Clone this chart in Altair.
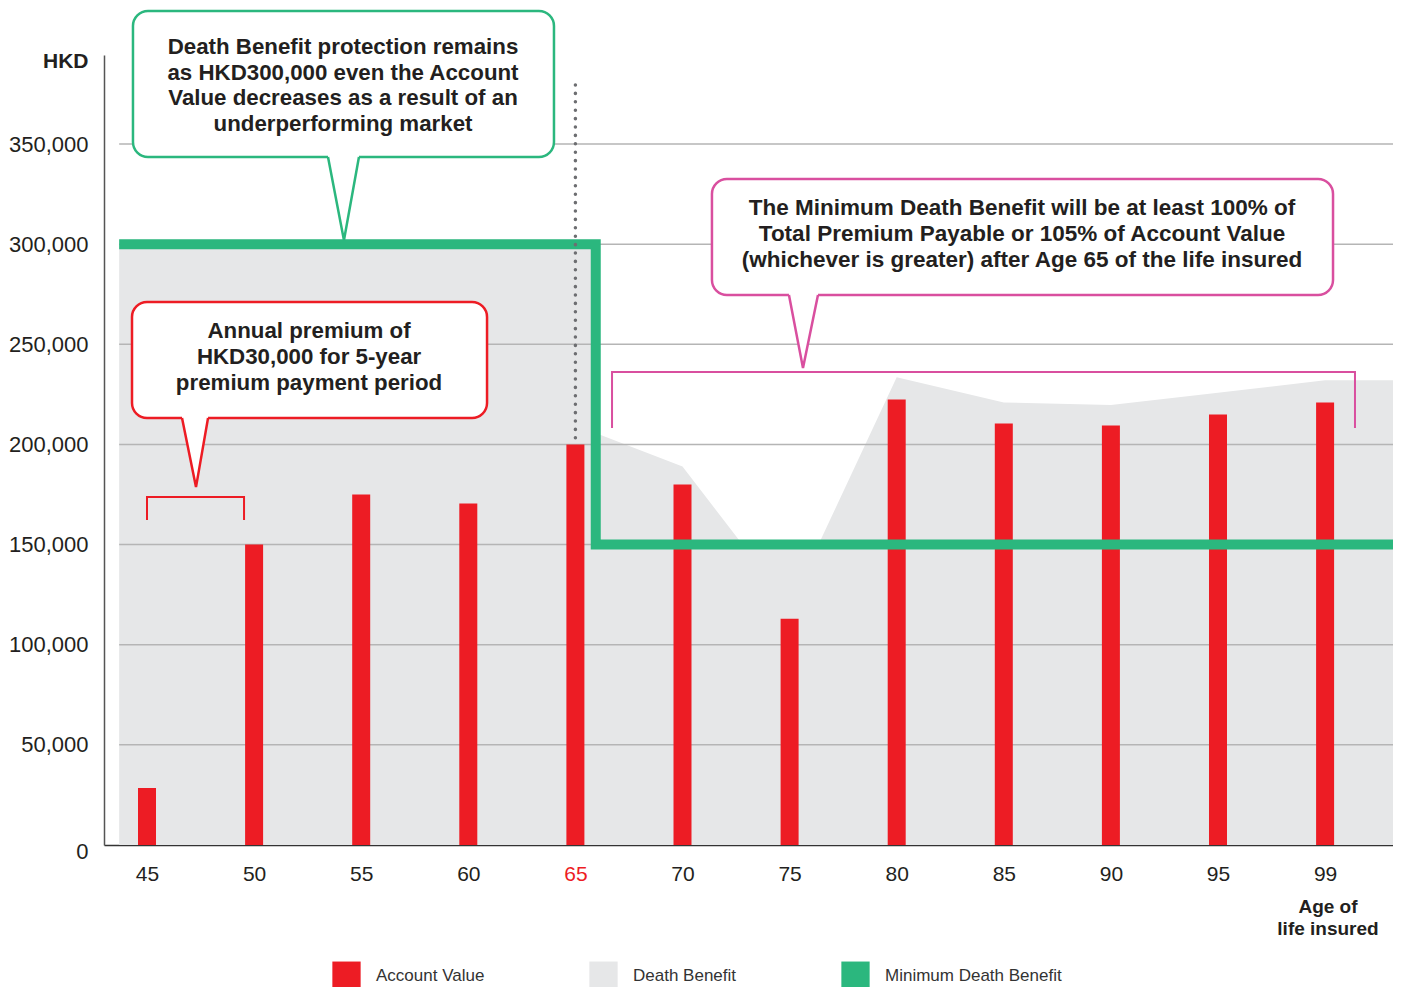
import altair as alt
import pandas as pd

# ---------------- data ----------------
ages = ["45", "50", "55", "60", "65", "70", "75", "80", "85", "90", "95", "99"]
account_value = [28500, 150000, 175000, 170500, 200000, 180000, 113000,
                 222500, 210500, 209500, 215000, 221000]
# Death benefit (grey area) break points, x in age-slot units
db_slot = [-0.26, 4.19, 4.20, 5, 5.56, 6.27, 7, 8, 9, 10, 11, 11.634]
db_value = [300000, 300000, 205500, 189000, 150000, 150000, 233600,
            221000, 219700, 225800, 232000, 232000]
# Minimum death benefit (green step line)
mdb_slot = [-0.26, 4.19, 4.19, 11.634]
mdb_value = [300000, 300000, 150000, 150000]
y_ticks = [0, 50000, 100000, 150000, 200000, 250000, 300000, 350000]
series = ["Account Value", "Death Benefit", "Minimum Death Benefit"]
series_colors = ["#ed1c24", "#e6e7e8", "#2bb77e"]

X_MIN, X_MAX, Y_MAX = -0.4015, 11.634, 394450
FONT = "Liberation Sans"
TXT = "#231f20"

callouts = [
    dict(text=["Death Benefit protection remains", "as HKD300,000 even the Account",
               "Value decreases as a result of an", "underperforming market"],
         color="#2bb77e", box=(-0.131, 3.800, 343500, 416400),
         ptr=(1.690, 1.979, 1.839, 302000), tpos=(1.830, 398400), bracket=None,
         size=22.3, lh=25.7),
    dict(text=["Annual premium of", "HKD30,000 for 5-year", "premium payment period"],
         color="#ed1c24", box=(-0.140, 3.175, 213200, 271100),
         ptr=(0.327, 0.570, 0.4575, 178700), tpos=(1.513, 256600),
         bracket=(0.0, 0.906, 173800, 162300), size=22.3, lh=26),
    dict(text=["The Minimum Death Benefit will be at least 100% of",
               "Total Premium Payable or 105% of Account Value",
               "(whichever is greater) after Age 65 of the life insured"],
         color="#d94f9f", box=(5.275, 11.074, 274600, 332500),
         ptr=(5.994, 6.265, 6.125, 238200), tpos=(8.170, 318000),
         bracket=(4.342, 11.279, 236200, 208200), size=22.5, lh=26),
]

# ---------------- encodings ----------------
xscale = alt.Scale(domain=[X_MIN, X_MAX], nice=False, zero=False, padding=0)
yscale = alt.Scale(domain=[0, Y_MAX], nice=False, zero=False, padding=0)
label_arr = "[" + ",".join("'%s'" % a for a in ages) + "]"
xaxis = alt.Axis(values=list(range(len(ages))), labelExpr=label_arr + "[datum.value]",
                 grid=False, ticks=False, domainColor="#333333", domainWidth=1.5,
                 labelFontSize=21, labelPadding=18, title=None,
                 labelColor={"condition": {"test": "datum.value == 4", "value": "#ed1c24"},
                             "value": TXT})
yaxis = alt.Axis(values=y_ticks, labelExpr="format(datum.value, ',')", grid=False, ticks=False,
                 domainColor="#555555", domainWidth=1.5, labelFontSize=22,
                 labelColor=TXT, labelPadding=16,
                 labelOffset={"condition": {"test": "datum.value == 0", "value": 6}, "value": 0},
                 title="HKD", titleAngle=0, titleAlign="right", titleBaseline="middle",
                 titleX=-16, titleY=6, titleFontSize=21, titleFontWeight="bold",
                 titleColor=TXT)


def X(f):
    return alt.X(f, type="quantitative", scale=xscale, axis=xaxis)


def Y(f):
    return alt.Y(f, type="quantitative", scale=yscale, axis=yaxis)


legend = alt.Legend(title=None, orient="none", legendX=228, legendY=906,
                    direction="horizontal", symbolType="square", symbolSize=800,
                    symbolStrokeWidth=0, symbolOpacity=1, labelFontSize=17,
                    labelColor="#333333", labelOffset=15, columnPadding=104, padding=0,
                    labelLimit=400)
color = alt.Color("series:N", scale=alt.Scale(domain=series, range=series_colors), legend=legend)

# ---------------- frames ----------------
bars_df = pd.DataFrame({"slot": list(range(len(ages))), "value": account_value,
                        "series": series[0]})
db_df = pd.DataFrame({"slot": db_slot, "value": db_value, "series": series[1]})
mdb_df = pd.DataFrame({"slot": mdb_slot, "value": mdb_value, "series": series[2],
                       "order": list(range(len(mdb_slot)))})
grid_df = pd.DataFrame({"x": -0.26, "x2": X_MAX, "value": y_ticks[1:]})

area = alt.Chart(db_df).mark_area(opacity=1).encode(x=X("slot"), y=Y("value"), color=color)
grid = alt.Chart(grid_df).mark_rule(color="#b5b5b5", strokeWidth=1.5).encode(
    x=X("x"), x2="x2", y=Y("value"))
bars = alt.Chart(bars_df).mark_bar(size=18, opacity=1).encode(
    x=X("slot"), y=Y("value"), color=color)
mdb = alt.Chart(mdb_df).mark_line(strokeWidth=10, strokeJoin="miter", strokeCap="butt",
                                  opacity=1).encode(
    x=X("slot"), y=Y("value"), color=color, order="order")
dots_df = pd.DataFrame({"slot": [4], "top": [379500], "value": [account_value[4]]})
dots = alt.Chart(dots_df).mark_rule(color="#6d6e71", strokeWidth=3.5, strokeDash=[0.1, 8.3],
                                    strokeCap="round").encode(
    x=X("slot"), y=Y("top"), y2="value")

layers = [area, grid, bars, mdb, dots]

for c in callouts:
    col = c["color"]
    if c["bracket"]:
        bx1, bx2, btop, bbot = c["bracket"]
        bdf = pd.DataFrame({"x": [bx1, bx1, bx2, bx2], "y": [bbot, btop, btop, bbot],
                            "o": [0, 1, 2, 3]})
        layers.append(alt.Chart(bdf).mark_line(color=col, strokeWidth=2, strokeJoin="miter")
                      .encode(x=X("x"), y=Y("y"), order="o"))
    x1, x2, y1, y2 = c["box"]
    rdf = pd.DataFrame({"x": [x1], "x2": [x2], "y": [y1], "y2": [y2]})
    layers.append(alt.Chart(rdf).mark_rect(fill="white", stroke=col, strokeWidth=2.5,
                                           cornerRadius=15)
                  .encode(x=X("x"), x2="x2", y=Y("y"), y2="y2"))
    p1, p2, tx, ty = c["ptr"]
    base = y1
    adf = pd.DataFrame({"x": [p1, tx, p2], "y": [base, ty, base],
                        "y2": [base + 1200] * 3})
    layers.append(alt.Chart(adf).mark_area(color="white", opacity=1)
                  .encode(x=X("x"), y=Y("y"), y2="y2"))
    ldf = pd.DataFrame({"x": [p1, tx, p2], "y": [base, ty, base], "o": [0, 1, 2]})
    layers.append(alt.Chart(ldf).mark_line(color=col, strokeWidth=2.5, strokeJoin="miter")
                  .encode(x=X("x"), y=Y("y"), order="o"))
    tdf = pd.DataFrame({"x": [c["tpos"][0]], "y": [c["tpos"][1]], "t": ["\n".join(c["text"])]})
    layers.append(alt.Chart(tdf).mark_text(font=FONT, fontWeight="bold", fontSize=c["size"],
                                           lineBreak="\n", lineHeight=c["lh"], align="center",
                                           baseline="middle", color=TXT)
                  .encode(x=X("x"), y=Y("y"), text="t:N"))

age_df = pd.DataFrame({"x": [11.027], "y": [-31000], "t": ["Age of\nlife insured"]})
layers.append(alt.Chart(age_df).mark_text(font=FONT, fontWeight="bold", fontSize=19,
                                          lineBreak="\n", lineHeight=22, align="center",
                                          baseline="middle", color=TXT)
              .encode(x=X("x"), y=Y("y"), text="t:N"))

chart = alt.layer(*layers).properties(
    width=1289, height=790,
    autosize=alt.AutoSizeParams(type="none"),
    padding={"left": 96, "top": 47, "right": 0, "bottom": 142},
).configure(font=FONT).configure_view(stroke=None).configure_axis(labelFont=FONT, titleFont=FONT)

chart.save("out.html", embed_options={"renderer": "svg", "actions": False})
